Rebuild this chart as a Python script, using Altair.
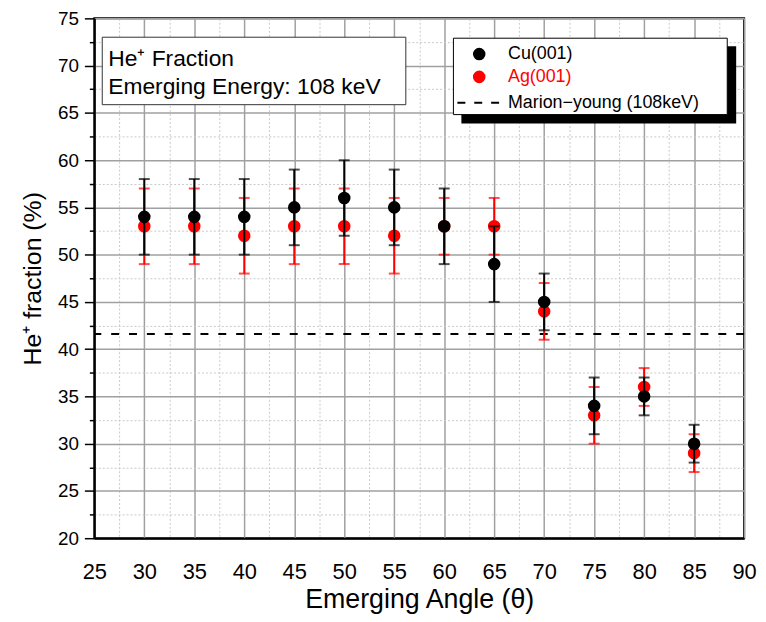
import altair as alt
import pandas as pd

# ---- data ----
angles = [30, 35, 40, 45, 50, 55, 60, 65, 70, 75, 80, 85]
cu_val = [54, 54, 54, 55, 56, 55, 53, 49, 45, 34, 35, 30]
cu_lo = [50, 50, 50, 51, 52, 51, 49, 45, 42, 31, 33, 28]
cu_hi = [58, 58, 58, 59, 60, 59, 57, 53, 48, 37, 37, 32]
ag_val = [53, 53, 52, 53, 53, 52, 53, 53, 44, 33, 36, 29]
ag_lo = [49, 49, 48, 49, 49, 48, 50, 50, 41, 30, 34, 27]
ag_hi = [57, 57, 56, 57, 57, 56, 56, 56, 47, 36, 38, 31]
marion_young = [41.6]
x_major = [25, 30, 35, 40, 45, 50, 55, 60, 65, 70, 75, 80, 85, 90]
x_minor = [27.5, 32.5, 37.5, 42.5, 47.5, 52.5, 57.5, 62.5, 67.5, 72.5, 77.5, 82.5, 87.5]
y_major = [20, 25, 30, 35, 40, 45, 50, 55, 60, 65, 70, 75]
y_minor = [22.5, 27.5, 32.5, 37.5, 42.5, 47.5, 52.5, 57.5, 62.5, 67.5, 72.5]
legend_labels = ["Cu(001)", "Ag(001)", "Marion\u2212young (108keV)"]
box_lines = ["He\u207a Fraction", "Emerging Energy: 108 keV"]

cu = pd.DataFrame({"angle": angles, "val": cu_val, "lo": cu_lo, "hi": cu_hi})
ag = pd.DataFrame({"angle": angles, "val": ag_val, "lo": ag_lo, "hi": ag_hi})
my = pd.DataFrame({"v": marion_young})
one = pd.DataFrame({"a": [0]})

F = "Liberation Sans"

axis_x = alt.Axis(
    values=x_major, title="Emerging Angle (\u03b8)", titleFont=F, titleFontSize=27,
    titleFontWeight="normal", titleColor="black", titlePadding=4,
    labelFont=F, labelFontSize=22, labelColor="black", labelPadding=24,
    labelFlush=False, labelOverlap=False,
    ticks=False, domainColor="black", domainWidth=2,
    grid=True, gridColor="#a0a0a0", gridWidth=1.5, orient="bottom",
)
axis_x_minor = alt.Axis(
    values=x_minor, title=None, labels=False, ticks=False, domain=False,
    grid=True, gridColor="#c8c8c8", gridDash=[2, 2], gridWidth=1, orient="bottom",
)
axis_y = alt.Axis(
    values=y_major, title="He\u207a fraction (%)", titleFont=F,
    titleFontSize=25, titleFontWeight="normal", titleColor="black", titlePadding=12,
    labelFont=F, labelFontSize=19, labelColor="black", labelPadding=6,
    labelFlush=False, labelOverlap=False,
    ticks=True, tickColor="black", tickWidth=1.5, tickSize=10,
    domainColor="black", domainWidth=2,
    grid=True, gridColor="#a0a0a0", gridWidth=1.5, orient="left",
)
axis_y_minor = alt.Axis(
    values=y_minor, title=None, labels=False, ticks=True, tickColor="black",
    tickWidth=1.5, tickSize=5, domain=False,
    grid=True, gridColor="#c8c8c8", gridDash=[2, 2], gridWidth=1, orient="left",
)
xs = alt.Scale(domain=[25, 90], nice=False, zero=False)
ys = alt.Scale(domain=[20, 75], nice=False, zero=False)


def X(f, axis=None):
    return alt.X(f"{f}:Q", scale=xs, axis=axis)


def Y(f, axis=None):
    return alt.Y(f"{f}:Q", scale=ys, axis=axis)


# layer carrying the major y axis: the Marion-young line
line = alt.Chart(my).mark_rule(color="black", strokeWidth=2, strokeDash=[8, 10]).encode(
    y=Y("v", axis_y))


def series(df, color, minor_axes=False):
    ax_x = axis_x_minor if minor_axes else None
    ax_y = axis_y_minor if minor_axes else None
    bars = alt.Chart(df).mark_rule(color=color, strokeWidth=2).encode(
        x=X("angle", ax_x), y=Y("lo", ax_y), y2="hi")
    cap_lo = alt.Chart(df).mark_tick(color=color, orient="horizontal", size=11,
                                     thickness=2).encode(x=X("angle"), y=Y("lo"))
    cap_hi = alt.Chart(df).mark_tick(color=color, orient="horizontal", size=11,
                                     thickness=2).encode(x=X("angle"), y=Y("hi"))
    pts = alt.Chart(df).mark_circle(color=color, size=160, opacity=1).encode(
        x=X("angle"), y=Y("val"))
    return [bars, cap_lo, cap_hi, pts]


# a layer that carries the major x axis (the line has no x channel)
xaxis_layer = alt.Chart(ag).mark_circle(opacity=0, size=1).encode(
    x=X("angle", axis_x), y=Y("val"))

# ---- annotation text box ----
tbox = alt.Chart(one).mark_rect(fill="white", stroke="#333333", strokeWidth=1).encode(
    x=alt.value(8), x2=alt.value(314), y=alt.value(19), y2=alt.value(87))
t1 = alt.Chart(one).mark_text(align="left", baseline="middle", font=F, fontSize=23,
                              color="black", text=box_lines[0]).encode(
    x=alt.value(14), y=alt.value(41))
t2 = alt.Chart(one).mark_text(align="left", baseline="middle", font=F, fontSize=23,
                              color="black", text=box_lines[1]).encode(
    x=alt.value(14), y=alt.value(69))

# ---- legend ----
shadow = alt.Chart(one).mark_rect(fill="black").encode(
    x=alt.value(370), x2=alt.value(647), y=alt.value(28), y2=alt.value(106))
lbox = alt.Chart(one).mark_rect(fill="white", stroke="black", strokeWidth=1).encode(
    x=alt.value(362), x2=alt.value(638), y=alt.value(20), y2=alt.value(97))
lc = alt.Chart(one).mark_circle(color="black", size=160, opacity=1).encode(
    x=alt.value(388), y=alt.value(36))
la = alt.Chart(one).mark_circle(color="red", size=160, opacity=1).encode(
    x=alt.value(388), y=alt.value(59))
ll = alt.Chart(one).mark_rule(color="black", strokeWidth=2, strokeDash=[8, 9]).encode(
    x=alt.value(366), x2=alt.value(410), y=alt.value(85))
tc = alt.Chart(one).mark_text(align="left", baseline="middle", font=F, fontSize=18,
                              color="black", text=legend_labels[0]).encode(
    x=alt.value(417), y=alt.value(36))
ta = alt.Chart(one).mark_text(align="left", baseline="middle", font=F, fontSize=18,
                              color="red", text=legend_labels[1]).encode(
    x=alt.value(417), y=alt.value(59))
tl = alt.Chart(one).mark_text(align="left", baseline="middle", font=F, fontSize=18,
                              color="black", text=legend_labels[2]).encode(
    x=alt.value(417), y=alt.value(85))

layers = [xaxis_layer, line] + series(ag, "red", minor_axes=True) + series(cu, "black") + [
    tbox, t1, t2, shadow, lbox, lc, la, ll, tc, ta, tl]

chart = alt.layer(*layers).resolve_axis(x="independent", y="independent").properties(
    width=655, height=524,
    autosize=alt.AutoSizeParams(type="none"),
    padding={"left": 87, "top": 8, "right": 14, "bottom": 80},
    background="white",
).configure_view(stroke="black", strokeWidth=2)

chart.save("out.html", embed_options={"renderer": "svg", "actions": False})
